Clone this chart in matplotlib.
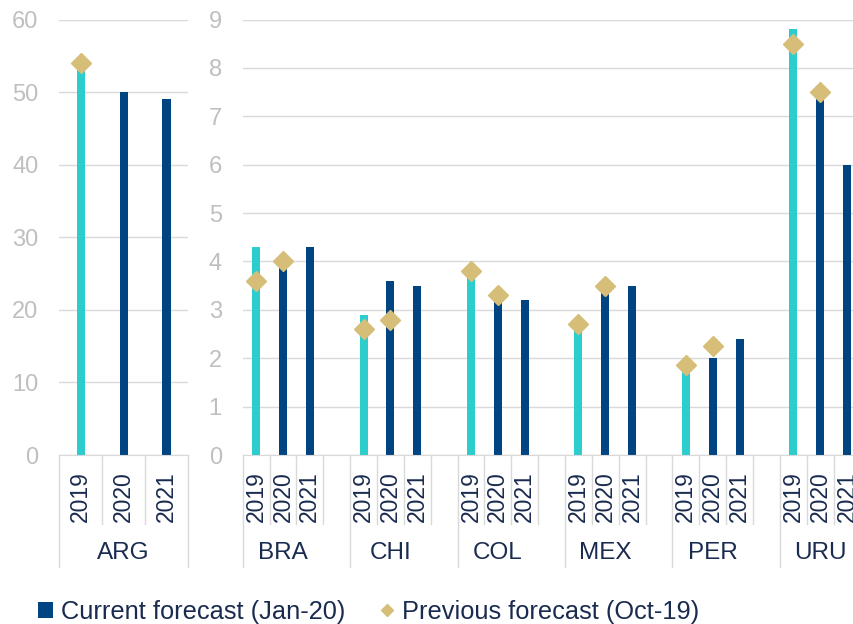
import matplotlib
matplotlib.use("Agg")
import matplotlib.pyplot as plt
from matplotlib.patches import Patch
from matplotlib.lines import Line2D

plt.rcParams["font.family"] = ["Liberation Sans", "DejaVu Sans"]

years = ["2019", "2020", "2021"]

# Argentina sits on its own scale
arg_current = [54.0, 50.0, 49.0]
arg_previous = [54.0]

countries = ["BRA", "CHI", "COL", "MEX", "PER", "URU"]
current = [
    [4.3, 4.0, 4.3],
    [2.9, 3.6, 3.5],
    [3.8, 3.2, 3.2],
    [2.7, 3.5, 3.5],
    [1.8, 2.0, 2.4],
    [8.8, 7.4, 6.0],
]
# previous forecast only covers 2019 and 2020
previous = [
    [3.6, 4.0],
    [2.6, 2.8],
    [3.8, 3.3],
    [2.7, 3.5],
    [1.85, 2.25],
    [8.5, 7.5],
]

NAVY = "#004481"
TURQ = "#2DCCCD"
GOLD = "#D6BE78"
GRID = "#D9D9D9"
TICK = "#BFBFBF"
TEXT = "#1A2B50"

W, H = 854, 624
fig = plt.figure(figsize=(W / 100, H / 100), dpi=100)


def px_box(x0, x1, y_top, y_bot):
    return [x0 / W, 1 - y_bot / H, (x1 - x0) / W, (y_bot - y_top) / H]


ax_l = fig.add_axes(px_box(59.3, 188, 19.5, 455))
ax_r = fig.add_axes(px_box(242.7, 860.4, 19.5, 455))
AX_H = 455 - 19.5


def style(ax, ymax, step):
    ax.set_ylim(0, ymax)
    ax.set_yticks(range(0, ymax + 1, step))
    ax.set_xticks([])
    ax.yaxis.grid(True, color=GRID, lw=1.0)
    ax.set_axisbelow(True)
    for s in ["top", "right", "left"]:
        ax.spines[s].set_visible(False)
    ax.spines["bottom"].set_color(GRID)
    ax.tick_params(axis="y", length=0, pad=15, labelsize=17, labelcolor=TICK)


def separators(ax, bounds, long_bounds):
    tr = ax.get_xaxis_transform()
    for b in bounds:
        depth = 112 if b in long_bounds else 69
        ax.add_line(Line2D([b, b], [0, -depth / AX_H], transform=tr,
                           color=GRID, lw=1.0, clip_on=False))


def year_labels(ax, xs):
    tr = ax.get_xaxis_transform()
    for x, y in xs:
        ax.text(x, -16 / AX_H, y, transform=tr, rotation=90, ha="center",
                va="top", fontsize=16.5, color=TEXT)


def group_label(ax, x, name):
    ax.text(x, -98 / AX_H, name, transform=ax.get_xaxis_transform(),
            ha="center", va="center", fontsize=17.5, color=TEXT)


# left panel: ARG
style(ax_l, 60, 10)
ax_l.set_xlim(-0.5, 2.5)
xs = list(range(3))
ax_l.bar(xs, arg_current, width=0.19, color=[TURQ, NAVY, NAVY], zorder=2)
ax_l.plot(xs[:len(arg_previous)], arg_previous, ls="none", marker="D",
          ms=10, color=GOLD, zorder=3, clip_on=False)
separators(ax_l, [-0.5, 0.5, 1.5, 2.5], [-0.5, 2.5])
year_labels(ax_l, zip(xs, years))
group_label(ax_l, 1, "ARG")

# right panel: the rest, 4 slots per country (last slot empty)
style(ax_r, 9, 1)
n_slots = 4 * len(countries) - 1
ax_r.set_xlim(-0.5, n_slots - 0.5)
for i, name in enumerate(countries):
    pos = [4 * i + j for j in range(3)]
    ax_r.bar(pos, current[i], width=0.3, color=[TURQ, NAVY, NAVY], zorder=2)
    ax_r.plot(pos[:2], previous[i], ls="none", marker="D", ms=10,
              color=GOLD, zorder=3, clip_on=False)
    year_labels(ax_r, zip(pos, years))
    last = min(4 * i + 3, n_slots) - 0.5
    group_label(ax_r, (4 * i - 0.5 + last) / 2, name)
bounds = [k - 0.5 for k in range(n_slots + 1)]
long_b = [k - 0.5 for k in range(0, n_slots + 1, 4)] + [n_slots - 0.5]
separators(ax_r, bounds, long_b)

handles = [
    Patch(facecolor=NAVY, edgecolor="none"),
    Line2D([], [], ls="none", marker="D", ms=6, color=GOLD),
]
fig.legend(handles, ["Current forecast (Jan-20)", "Previous forecast (Oct-19)"],
           loc="center left", bbox_to_anchor=(38 / W, 1 - 611.7 / H),
           ncol=2, frameon=False, fontsize=18.3, labelcolor=TEXT,
           handlelength=0.6, handleheight=0.6, handletextpad=0.3,
           columnspacing=1.35, borderaxespad=0, borderpad=0)

fig.savefig("out.png", dpi=100)
